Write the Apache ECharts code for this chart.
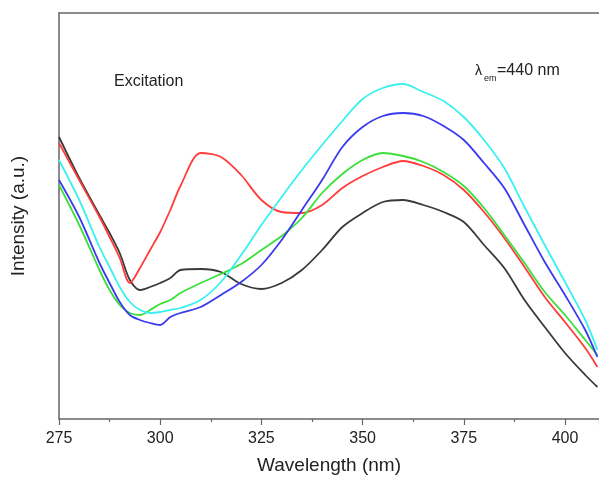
<!DOCTYPE html>
<html>
<head>
<meta charset="utf-8">
<script src="https://cdn.jsdelivr.net/npm/echarts@6/dist/echarts.min.js"></script>
<style>
  html, body { margin: 0; padding: 0; background: #fff; }
  #chart { width: 599px; height: 477px; }
</style>
</head>
<body>
<div id="chart"></div>
<script>
// wavelength grid (nm), denser around the dip
var wavelengths = [275, 280, 285, 287.5, 290, 292.5, 295, 297.5, 300, 302.5, 305, 310, 315, 320, 325, 330,
  335, 340, 345, 350, 355, 360, 365, 370, 375, 380, 385, 390, 395, 400, 405, 408]

// intensities (a.u.)
var blackVals = [282, 241, 204, 186, 166, 139, 129, 132, 136, 141, 149, 150, 147, 135, 130, 136,
  149, 169, 192, 206, 217, 219, 214, 207, 197, 174, 151, 119, 92, 66, 44, 32]
var redVals = [276, 239, 202, 182, 161, 136, 151, 169, 187, 209, 233, 266, 262, 244, 219, 207,
  206, 214, 231, 243, 252, 258, 253, 244, 229, 207, 181, 152, 122, 97, 71, 52]
var greenVals = [234, 194, 149, 129, 114, 106, 104, 109, 115, 119, 126, 136, 145, 155, 169, 183,
  201, 226, 245, 259, 266, 263, 257, 247, 233, 211, 184, 156, 127, 104, 79, 64]
var blueVals = [239, 202, 156, 136, 117, 104, 99, 96, 94, 102, 106, 112, 124, 137, 154, 179,
  209, 239, 272, 292, 303, 306, 303, 293, 279, 256, 231, 194, 157, 124, 89, 62]
var cyanVals = [259, 219, 172, 152, 132, 117, 109, 106, 107, 109, 111, 119, 137, 164, 194, 222,
  249, 274, 298, 320, 331, 335, 327, 318, 302, 279, 251, 212, 174, 137, 99, 69]

var xTicks = [275, 300, 325, 350, 375, 400]

var pairs = function (vals) {
  return wavelengths.map(function (w, i) { return [w, vals[i]] })
}

var font = '"Liberation Sans", Arial, sans-serif'
var axisColor = '#666'

var line = function (name, color, vals) {
  return {
    name: name,
    type: 'line',
    data: pairs(vals),
    showSymbol: false,
    smooth: 0.3,
    lineStyle: { color: color, width: 1.8 },
    animation: false
  }
}

var chart = echarts.init(document.getElementById('chart'))
chart.setOption({
  backgroundColor: '#fff',
  grid: { left: 59, right: 0, top: 13, bottom: 58, outerBoundsMode: 'none', containLabel: false },
  xAxis: [{
    type: 'value',
    min: 275, max: 408.4, interval: 25,
    name: 'Wavelength (nm)',
    nameLocation: 'middle',
    nameGap: 37,
    nameTextStyle: { fontFamily: font, fontSize: 19, color: '#222' },
    axisLine: { lineStyle: { color: axisColor, width: 1.5 } },
    axisTick: { inside: false, length: 6, lineStyle: { color: axisColor, width: 1.2 } },
    minorTick: { show: true, splitNumber: 2, length: 3, lineStyle: { color: axisColor, width: 1.2 } },
    splitLine: { show: false },
    axisLabel: {
      fontFamily: font, fontSize: 16, color: '#222', margin: 12,
      showMaxLabel: false,
      formatter: function (v) { return xTicks.indexOf(v) >= 0 ? String(v) : '' }
    }
  }, {
    // top frame line only
    type: 'value',
    position: 'top',
    min: 275, max: 408.4,
    axisLine: { show: true, lineStyle: { color: axisColor, width: 1.5 } },
    axisTick: { show: false },
    axisLabel: { show: false },
    splitLine: { show: false }
  }],
  yAxis: {
    type: 'value',
    min: 0, max: 406,
    name: 'Intensity (a.u.)',
    nameLocation: 'middle',
    nameGap: 31,
    nameTextStyle: { fontFamily: font, fontSize: 19, color: '#222' },
    axisLine: { show: true, lineStyle: { color: axisColor, width: 1.5 } },
    axisTick: { show: false },
    axisLabel: { show: false },
    splitLine: { show: false }
  },
  graphic: [
    {
      type: 'text', left: 114, top: 74,
      style: { text: 'Excitation', fontFamily: font, fontSize: 16, fill: '#222' }
    },
    {
      type: 'text', left: 475, top: 64,
      style: { text: 'λ', fontFamily: font, fontSize: 14, fill: '#222' }
    },
    {
      type: 'text', left: 484, top: 74,
      style: { text: 'em', fontFamily: font, fontSize: 9, fill: '#222' }
    },
    {
      type: 'text', left: 497, top: 63,
      style: { text: '=440 nm', fontFamily: font, fontSize: 16, fill: '#222' }
    }
  ],
  series: [
    line('black', '#3a3a3a', blackVals),
    line('red', '#ff3b3b', redVals),
    line('green', '#3ae03a', greenVals),
    line('blue', '#3a3aef', blueVals),
    line('cyan', '#3af0f0', cyanVals)
  ]
})
</script>
</body>
</html>
